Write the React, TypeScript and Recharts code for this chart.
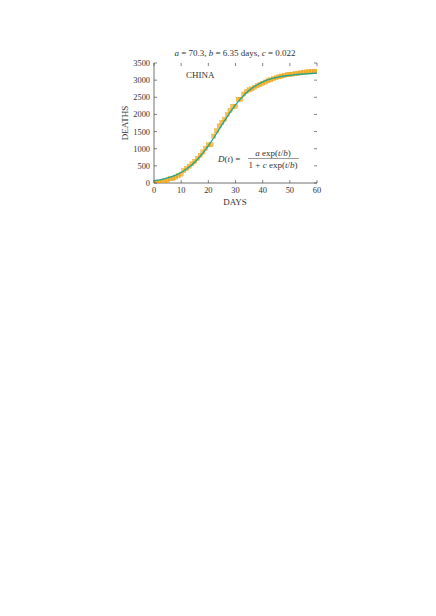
import React from "react";
import {
  ComposedChart,
  Scatter,
  XAxis,
  YAxis,
} from "recharts";

// observed cumulative deaths, China (day 0 = 22 Jan)
const days: number[] = [
  0, 1, 2, 3, 4, 5, 6, 7, 8, 9, 10, 11, 12, 13, 14, 15, 16, 17, 18, 19, 20,
  21, 22, 23, 24, 25, 26, 27, 28, 29, 30, 31, 32, 33, 34, 35, 36, 37, 38, 39,
  40, 41, 42, 43, 44, 45, 46, 47, 48, 49, 50, 51, 52, 53, 54, 55, 56, 57, 58,
  59, 60,
];
const deaths: number[] = [
  17, 18, 26, 42, 56, 82, 131, 133, 171, 213, 259, 361, 425, 490, 562, 632,
  717, 804, 904, 1011, 1111, 1116, 1368, 1520, 1662, 1765, 1863, 2002, 2114,
  2236, 2236, 2441, 2443, 2593, 2663, 2715, 2744, 2788, 2835, 2870, 2912,
  2945, 2981, 3013, 3042, 3070, 3097, 3119, 3136, 3158, 3169, 3176, 3189,
  3199, 3213, 3226, 3237, 3245, 3249, 3255, 3261,
];

// fitted curve
const fitDays: number[] = [
  0, 2, 4, 6, 8, 10, 12, 14, 16, 18, 20, 22, 24, 26, 28, 30, 32, 34, 36, 38,
  40, 42, 44, 46, 48, 50, 52, 54, 56, 58, 60,
];
const fitDeaths: number[] = [
  69, 94, 127, 171, 230, 307, 406, 532, 686, 871, 1084, 1320, 1569, 1818,
  2058, 2277, 2468, 2630, 2762, 2867, 2949, 3012, 3060, 3095, 3121, 3142,
  3158, 3172, 3184, 3194, 3202,
];

const xTicks = [0, 10, 20, 30, 40, 50, 60];
const yTicks = [0, 500, 1000, 1500, 2000, 2500, 3000, 3500];

const points = days.map((t, i) => ({ t, d: deaths[i] }));
const fit = fitDays.map((t, i) => ({ t, d: fitDeaths[i] }));

const W = 436;
const H = 616;
const PLOT = { left: 154, right: 317, top: 63, bottom: 183 };
const FONT = "'Liberation Serif', 'Times New Roman', serif";
const INK = "#333";
const LABEL = 9;

const XTick = (props: any) => {
  const { x, payload } = props;
  return (
    <g>
      <line x1={x} x2={x} y1={PLOT.bottom} y2={PLOT.bottom - 3} stroke={INK} strokeWidth={0.6} />
      <line x1={x} x2={x} y1={PLOT.top} y2={PLOT.top + 3} stroke={INK} strokeWidth={0.6} />
      <text x={x} y={PLOT.bottom + 9.5} textAnchor="middle" fontSize={8.4} fontFamily={FONT} fill={INK}>
        {payload.value}
      </text>
    </g>
  );
};

const YTick = (props: any) => {
  const { y, payload } = props;
  return (
    <g>
      <line x1={PLOT.left} x2={PLOT.left + 3} y1={y} y2={y} stroke={INK} strokeWidth={0.6} />
      <line x1={PLOT.right} x2={PLOT.right - 3} y1={y} y2={y} stroke={INK} strokeWidth={0.6} />
      <text x={PLOT.left - 4} y={y + 3} textAnchor="end" fontSize={8.4} fontFamily={FONT} fill={INK}>
        {payload.value}
      </text>
    </g>
  );
};

const Square = (props: any) => {
  const { cx, cy } = props;
  const s = 4.2;
  return (
    <rect
      x={cx - s / 2}
      y={cy - s / 2}
      width={s}
      height={s}
      fill="#f2a516"
      fillOpacity={0.7}
      stroke="#e59a00"
      strokeWidth={0.3}
    />
  );
};

const NoDot = () => <g />;

export default function App() {
  const chartH = 230;
  return (
    <div style={{ position: "absolute", left: 0, top: 0, width: W, height: H, background: "#fff" }}>
      <ComposedChart
        width={W}
        height={chartH}
        margin={{
          top: PLOT.top,
          right: W - PLOT.right,
          left: PLOT.left - 40,
          bottom: chartH - PLOT.bottom - 20,
        }}
      >
        <XAxis
          xAxisId="b"
          dataKey="t"
          type="number"
          domain={[0, 60]}
          ticks={xTicks}
          interval={0}
          height={20}
          tickLine={false}
          tick={<XTick />}
          axisLine={{ stroke: INK, strokeWidth: 0.7 }}
          allowDataOverflow
        />
        <XAxis
          xAxisId="t"
          orientation="top"
          dataKey="t"
          type="number"
          domain={[0, 60]}
          height={0}
          tick={false}
          tickLine={false}
          axisLine={{ stroke: INK, strokeWidth: 0.7 }}
        />
        <YAxis
          yAxisId="l"
          dataKey="d"
          type="number"
          domain={[0, 3500]}
          ticks={yTicks}
          interval={0}
          width={40}
          tickLine={false}
          tick={<YTick />}
          axisLine={{ stroke: INK, strokeWidth: 0.7 }}
          allowDataOverflow
        />
        <YAxis
          yAxisId="r"
          orientation="right"
          dataKey="d"
          type="number"
          domain={[0, 3500]}
          width={0}
          tick={false}
          tickLine={false}
          axisLine={{ stroke: INK, strokeWidth: 0.7 }}
        />
        <Scatter
          xAxisId="b"
          yAxisId="l"
          data={points}
          dataKey="d"
          shape={<Square />}
          isAnimationActive={false}
        />
        <Scatter
          xAxisId="b"
          yAxisId="l"
          data={fit}
          dataKey="d"
          shape={<NoDot />}
          line={{ stroke: "#1fa68c", strokeWidth: 1.3 }}
          lineType="joint"
          isAnimationActive={false}
        />
      </ComposedChart>
      <svg
        width={W}
        height={chartH}
        style={{ position: "absolute", left: 0, top: 0, pointerEvents: "none" }}
        fontFamily={FONT}
        fill={INK}
      >
        <text x={235} y={55.5} textAnchor="middle" fontSize={LABEL}>
          <tspan fontStyle="italic">a</tspan> = 70.3, <tspan fontStyle="italic">b</tspan> = 6.35 days,{" "}
          <tspan fontStyle="italic">c</tspan> = 0.022
        </text>
        <text x={186} y={77.5} fontSize={LABEL}>CHINA</text>
        <text x={235} y={205} textAnchor="middle" fontSize={LABEL}>DAYS</text>
        <text
          x={0}
          y={0}
          textAnchor="middle"
          fontSize={LABEL}
          transform={`translate(127.5, ${(PLOT.top + PLOT.bottom) / 2}) rotate(-90)`}
        >
          DEATHS
        </text>
        <text x={218} y={162} fontSize={LABEL}>
          <tspan fontStyle="italic">D</tspan>(<tspan fontStyle="italic">t</tspan>) =
        </text>
        <text x={273} y={155.5} textAnchor="middle" fontSize={LABEL}>
          <tspan fontStyle="italic">a</tspan> exp(<tspan fontStyle="italic">t</tspan>/<tspan fontStyle="italic">b</tspan>)
        </text>
        <line x1={248} x2={299} y1={158.5} y2={158.5} stroke={INK} strokeWidth={0.5} />
        <text x={273} y={168} textAnchor="middle" fontSize={LABEL}>
          1 + <tspan fontStyle="italic">c</tspan> exp(<tspan fontStyle="italic">t</tspan>/<tspan fontStyle="italic">b</tspan>)
        </text>
      </svg>
    </div>
  );
}
